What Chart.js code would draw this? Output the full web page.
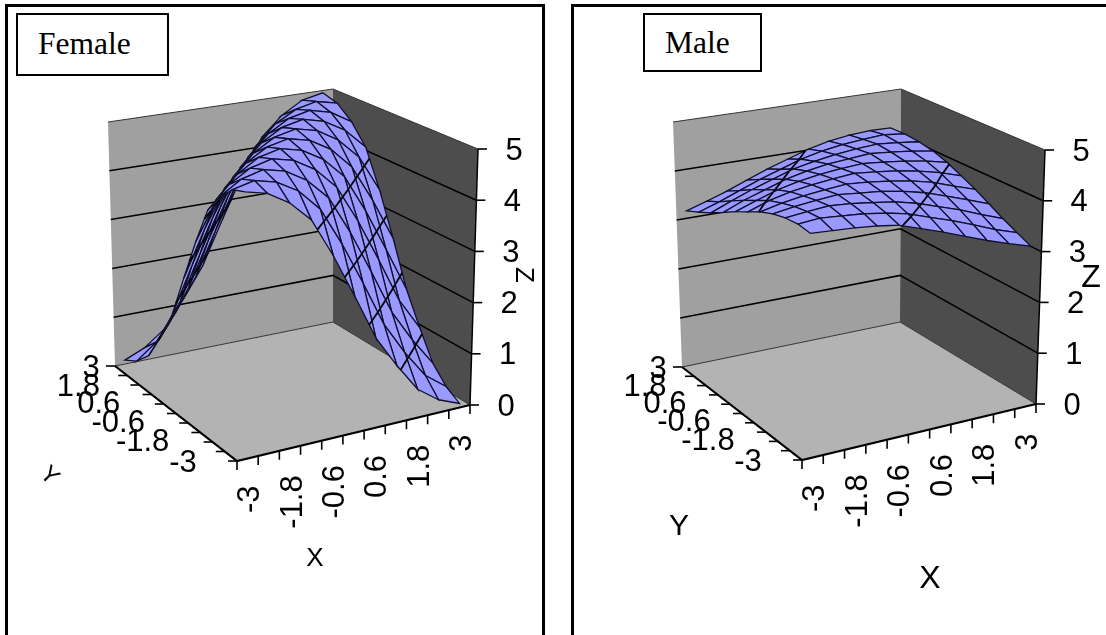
<!DOCTYPE html>
<html>
<head>
<meta charset="utf-8">
<title>Female / Male surface</title>
<script src="https://cdn.jsdelivr.net/npm/chart.js@4"></script>
<style>
  html, body { margin: 0; padding: 0; background: #fff; }
  #page { position: relative; width: 1106px; height: 635px; overflow: hidden; }
  canvas { position: absolute; top: 0; }
  .frame { position: absolute; top: 4px; height: 640px; border: 3px solid #000; box-sizing: border-box; }
  .tag { position: absolute; top: 13px; height: 63px; border: 2px solid #000; box-sizing: border-box; background: #fff;
         font: 31.5px "Liberation Serif", serif; line-height: 58px; color: #000; }
</style>
</head>
<body>
<div id="page">
  <div class="frame" style="left:5px;width:540px"></div>
  <div class="frame" style="left:571px;width:560px"></div>
  <canvas id="femaleChart" width="553" height="635" style="left:0"></canvas>
  <canvas id="maleChart" width="553" height="635" style="left:553px"></canvas>
  <div class="tag" style="left:16px;width:153px;padding-left:20px">Female</div>
  <div class="tag" style="left:643px;width:119px;height:59px;line-height:56px;padding-left:20px">Male</div>
</div>
<script>
// tick labels
var xTicks = ['-3', '-1.8', '-0.6', '0.6', '1.8', '3'];
var yTicks = ['-3', '-1.8', '-0.6', '0.6', '1.8', '3'];
var zTicks = [0, 1, 2, 3, 4, 5];

// values, rows go Y=-3 .. 3, columns go X=-3 .. 3
var femaleZ = [
  [4.95, 4.85, 4.60, 4.20, 3.45, 2.60, 1.72, 1.10, 0.55, 0.25, 0.08],
  [4.86, 4.96, 4.86, 4.62, 4.20, 3.46, 2.62, 1.74, 1.10, 0.56, 0.25],
  [4.60, 4.86, 4.97, 4.87, 4.62, 4.21, 3.47, 2.62, 1.74, 1.10, 0.55],
  [4.20, 4.62, 4.87, 4.98, 4.88, 4.63, 4.21, 3.47, 2.62, 1.73, 1.10],
  [3.45, 4.20, 4.62, 4.88, 4.98, 4.88, 4.63, 4.21, 3.46, 2.60, 1.72],
  [2.60, 3.46, 4.21, 4.63, 4.88, 4.98, 4.88, 4.63, 4.20, 3.45, 2.60],
  [1.72, 2.62, 3.47, 4.21, 4.63, 4.88, 4.98, 4.88, 4.62, 4.20, 3.45],
  [1.10, 1.74, 2.62, 3.47, 4.21, 4.63, 4.88, 4.98, 4.87, 4.62, 4.20],
  [0.55, 1.10, 1.74, 2.62, 3.46, 4.20, 4.62, 4.87, 4.97, 4.86, 4.60],
  [0.25, 0.56, 1.10, 1.73, 2.60, 3.45, 4.20, 4.62, 4.86, 4.96, 4.86],
  [0.08, 0.25, 0.55, 1.10, 1.72, 2.60, 3.45, 4.20, 4.60, 4.86, 4.95]
];
var maleZ = [
  [4.16, 4.14, 4.12, 4.08, 4.02, 3.88, 3.74, 3.58, 3.42, 3.28, 3.15],
  [4.20, 4.24, 4.21, 4.18, 4.12, 4.03, 3.89, 3.75, 3.59, 3.42, 3.28],
  [4.18, 4.23, 4.27, 4.24, 4.19, 4.13, 4.03, 3.89, 3.75, 3.58, 3.42],
  [4.12, 4.19, 4.24, 4.28, 4.24, 4.20, 4.13, 4.03, 3.89, 3.74, 3.58],
  [4.02, 4.12, 4.19, 4.24, 4.28, 4.25, 4.20, 4.13, 4.03, 3.88, 3.74],
  [3.88, 4.03, 4.13, 4.20, 4.25, 4.29, 4.25, 4.20, 4.12, 4.02, 3.88],
  [3.74, 3.89, 4.03, 4.13, 4.20, 4.25, 4.28, 4.24, 4.19, 4.12, 4.02],
  [3.58, 3.75, 3.89, 4.03, 4.13, 4.20, 4.24, 4.28, 4.24, 4.19, 4.12],
  [3.42, 3.59, 3.75, 3.89, 4.03, 4.12, 4.19, 4.24, 4.27, 4.23, 4.18],
  [3.28, 3.42, 3.58, 3.74, 3.88, 4.02, 4.12, 4.19, 4.23, 4.26, 4.21],
  [3.15, 3.28, 3.42, 3.58, 3.74, 3.88, 4.02, 4.12, 4.18, 4.21, 4.20]
];

// the box of each 3d plot on the page, a/d are the back corners, b the front, c the right
var femaleBox = {
  a: [115, 366], b: [237, 461], c: [470, 405], d: [333, 322],
  at: [108, 122], bt: [234, 191], ct: [478, 149], dt: [333, 89]
};
var maleBox = {
  a: [682, 367], b: [802, 460], c: [1036, 404], d: [900, 322],
  at: [673, 122], bt: [799, 190], ct: [1045, 150], dt: [901, 89]
};

var MESH = '#9999ff', WALL = '#a0a0a0', SIDE = '#4d4d4d', FLOOR = '#b3b3b3';
var TICKFONT = '31px "Liberation Sans", Arial, sans-serif';
var yLabelOffset = [[-54, 2], [-70, 0], [-70, 0], [-65, 0], [-61, 2], [-24, 2]];

function mix(p, q, t) {
  return [p[0] + (q[0] - p[0]) * t, p[1] + (q[1] - p[1]) * t];
}

// u runs along X, v along Y, z is the real value
function project(box, u, v, z) {
  var low = mix(mix(box.b, box.c, u), mix(box.a, box.d, u), v);
  var high = mix(mix(box.bt, box.ct, u), mix(box.at, box.dt, u), v);
  var p = mix(low, high, z / 5);
  return { x: p[0], y: p[1] };
}

function poly(points, fillColor, lineColor, width) {
  return {
    data: points,
    showLine: true,
    pointRadius: 0,
    fill: fillColor ? 'shape' : false,
    backgroundColor: fillColor || 'transparent',
    borderColor: lineColor || fillColor,
    borderWidth: width === undefined ? 1 : width
  };
}

function meshU(i) { return (i + 0.5) / 11; } // X points sit in the middle of their category
function meshV(j) { return j / 10; }

// where the integer contour crosses one grid cell
function contourIn(box, zs, i, j, level) {
  var cell = [[i, j], [i + 1, j], [i + 1, j + 1], [i, j + 1]];
  var found = [];
  for (var k = 0; k < 4; k++) {
    var p = cell[k], q = cell[(k + 1) % 4];
    var zp = zs[p[1]][p[0]], zq = zs[q[1]][q[0]];
    if ((zp - level) * (zq - level) < 0) {
      var t = (level - zp) / (zq - zp);
      found.push(project(box, meshU(p[0] + (q[0] - p[0]) * t), meshV(p[1] + (q[1] - p[1]) * t), level));
    }
  }
  return found.length >= 2 ? found.slice(0, 2) : null;
}

function buildDatasets(box, zs) {
  var list = [];
  // walls and floor
  list.push(poly([project(box, 0, 1, 0), project(box, 1, 1, 0), project(box, 1, 1, 5), project(box, 0, 1, 5), project(box, 0, 1, 0)], WALL, WALL, 0));
  list.push(poly([project(box, 1, 1, 0), project(box, 1, 0, 0), project(box, 1, 0, 5), project(box, 1, 1, 5), project(box, 1, 1, 0)], SIDE, SIDE, 0));
  list.push(poly([project(box, 0, 1, 0), project(box, 0, 0, 0), project(box, 1, 0, 0), project(box, 1, 1, 0), project(box, 0, 1, 0)], FLOOR, FLOOR, 0));
  // gridlines on the walls
  zTicks.forEach(function(z) {
    list.push(poly([project(box, 0, 1, z), project(box, 1, 1, z), project(box, 1, 0, z)], null, z === 0 || z === 5 ? '#333' : '#000', z === 0 || z === 5 ? 1 : 1.5));
  });
  // axis lines and tick marks
  list.push(poly([project(box, 1, 0, 0), project(box, 1, 0, 5)], null, '#000', 1.5));
  list.push(poly([project(box, 0, 1, 0), project(box, 0, 0, 0), project(box, 1, 0, 0)], null, '#000', 2.2));
  var t, p;
  for (t = 0; t <= 10; t++) {
    p = project(box, 0, t / 10, 0);
    list.push(poly([p, { x: p.x - 9, y: p.y }], null, '#000', 1.6));
  }
  for (t = 0; t <= 11; t++) {
    p = project(box, t / 11, 0, 0);
    list.push(poly([p, { x: p.x, y: p.y + 9 }], null, '#000', 1.6));
  }
  zTicks.forEach(function(z) {
    p = project(box, 1, 0, z);
    list.push(poly([p, { x: p.x + 9, y: p.y }], null, '#000', 1.6));
  });
  // the surface, far cells first
  for (var j = 9; j >= 0; j--) {
    for (var i = 9; i >= 0; i--) {
      var cell = [[i, j], [i + 1, j], [i + 1, j + 1], [i, j + 1], [i, j]].map(function(c) {
        return project(box, meshU(c[0]), meshV(c[1]), zs[c[1]][c[0]]);
      });
      list.push(poly(cell, MESH, '#10102c', 1.3));
      for (var level = 1; level <= 4; level++) {
        var seg = contourIn(box, zs, i, j, level);
        if (seg) list.push(poly(seg, null, '#000', 1.8));
      }
    }
  }
  // chart.js paints the first dataset last
  return list.reverse();
}

function labelPlugin(box, texts) {
  return {
    id: 'axisText',
    afterDraw: function(chart) {
      var ctx = chart.ctx, sx = chart.scales.x, sy = chart.scales.y;
      function put(str, x, y, rot, font, align) {
        ctx.save();
        ctx.translate(sx.getPixelForValue(x), sy.getPixelForValue(y));
        ctx.rotate(rot);
        ctx.font = font;
        ctx.fillStyle = '#000';
        ctx.textAlign = align || 'center';
        ctx.textBaseline = 'middle';
        ctx.fillText(str, 0, 0);
        ctx.restore();
      }
      zTicks.forEach(function(z) {
        var p = project(box, 1, 0, z);
        put(String(z), p.x + 36, p.y + 2, 0, TICKFONT);
      });
      yTicks.forEach(function(s, k) {
        var p = project(box, 0, k / 5, 0);
        put(s, p.x + yLabelOffset[k][0], p.y + yLabelOffset[k][1], 0, TICKFONT);
      });
      xTicks.forEach(function(s, k) {
        var p = project(box, meshU(k * 2), 0, 0);
        put(s, p.x + 3, p.y + 27, -Math.PI / 2, TICKFONT, 'right');
      });
      texts.forEach(function(t) { put(t.text, t.x, t.y, t.rot, t.font); });
    }
  };
}

function drawPanel(id, box, zs, xMin, texts) {
  new Chart(document.getElementById(id), {
    type: 'scatter',
    data: { datasets: buildDatasets(box, zs) },
    options: {
      responsive: false,
      animation: false,
      events: [],
      layout: { padding: 0 },
      plugins: { legend: { display: false }, tooltip: { enabled: false } },
      scales: {
        x: { type: 'linear', min: xMin, max: xMin + 553, display: false },
        y: { type: 'linear', min: 0, max: 635, reverse: true, display: false }
      }
    },
    plugins: [labelPlugin(box, texts)]
  });
}

drawPanel('femaleChart', femaleBox, femaleZ, 0, [
  { text: 'X', x: 315, y: 559, rot: 0, font: '26px "Liberation Sans", Arial, sans-serif' },
  { text: 'Y', x: 49, y: 476, rot: Math.PI / 4, font: '24px "Liberation Sans", Arial, sans-serif' },
  { text: 'Z', x: 523, y: 275, rot: Math.PI / 2, font: '26px "Liberation Sans", Arial, sans-serif' }
]);
drawPanel('maleChart', maleBox, maleZ, 553, [
  { text: 'X', x: 930, y: 579, rot: 0, font: '32px "Liberation Sans", Arial, sans-serif' },
  { text: 'Y', x: 679, y: 527, rot: 0, font: '30px "Liberation Sans", Arial, sans-serif' },
  { text: 'Z', x: 1091, y: 278, rot: 0, font: '32px "Liberation Sans", Arial, sans-serif' }
]);
</script>
</body>
</html>
